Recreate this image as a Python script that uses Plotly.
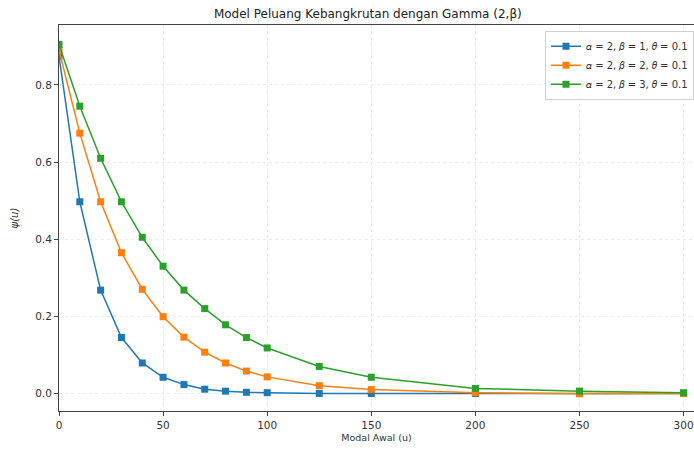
import plotly.graph_objects as go

u = [0, 10, 20, 30, 40, 50, 60, 70, 80, 90, 100, 125, 150, 200, 250, 300]
psi_b1 = [0.875, 0.497, 0.268, 0.145, 0.079, 0.042, 0.023, 0.011, 0.006, 0.003, 0.002, 0.0, 0.0, 0.0, 0.0, 0.0]
psi_b2 = [0.89, 0.675, 0.497, 0.365, 0.27, 0.199, 0.146, 0.107, 0.079, 0.058, 0.043, 0.02, 0.01, 0.002, -0.001, 0.0]
psi_b3 = [0.905, 0.745, 0.61, 0.497, 0.405, 0.33, 0.268, 0.22, 0.178, 0.145, 0.118, 0.07, 0.042, 0.013, 0.006, 0.002]

names = ["𝛼 = 2, 𝛽 = 1, 𝜃 = 0.1", "𝛼 = 2, 𝛽 = 2, 𝜃 = 0.1", "𝛼 = 2, 𝛽 = 3, 𝜃 = 0.1"]
colors = ["#1f77b4", "#ff7f0e", "#2ca02c"]
xticks = [0, 50, 100, 150, 200, 250, 300]
yticks = [0.0, 0.2, 0.4, 0.6, 0.8]

fig = go.Figure()
for ys, nm, c in zip([psi_b1, psi_b2, psi_b3], names, colors):
    fig.add_trace(go.Scatter(x=u, y=ys, mode="lines+markers", name=nm,
                             line=dict(color=c, width=1.5),
                             marker=dict(symbol="square", size=7, color=c)))

fig.update_layout(
    width=694, height=450,
    margin=dict(l=59, r=0, t=25, b=39),
    paper_bgcolor="white", plot_bgcolor="white",
    font=dict(family="DejaVu Sans", size=10, color="#333333"),
    title=dict(text="Model Peluang Kebangkrutan dengan Gamma (2,β)", x=0.53, xanchor="center",
               y=0.978, yanchor="top", font=dict(size=12, color="#222222")),
    legend=dict(x=1.0, y=0.985, xanchor="right", yanchor="top",
                bgcolor="rgba(255,255,255,0.85)", bordercolor="#d0d0d0", borderwidth=1,
                font=dict(size=10, color="#333333"), tracegroupgap=2),
    showlegend=True,
)
fig.update_xaxes(range=[0, 305], tickvals=xticks, ticks="outside", ticklen=4,
                 showline=True, linecolor="#444444", linewidth=1, mirror=True,
                 showgrid=True, gridcolor="#ececec", griddash="dot", zeroline=False,
                 title=dict(text="Modal Awal (u)", font=dict(size=9.5), standoff=4),
                 tickfont=dict(size=10.5))
fig.update_yaxes(range=[-0.0455, 0.9555], tickvals=yticks, tickformat=".1f", ticks="outside", ticklen=4,
                 showline=True, linecolor="#444444", linewidth=1, mirror=True,
                 showgrid=True, gridcolor="#ececec", griddash="dot", zeroline=False,
                 title=dict(text="<i>ψ(u)</i>", font=dict(size=10), standoff=14),
                 tickfont=dict(size=10.5))

fig.write_html("out.html")
